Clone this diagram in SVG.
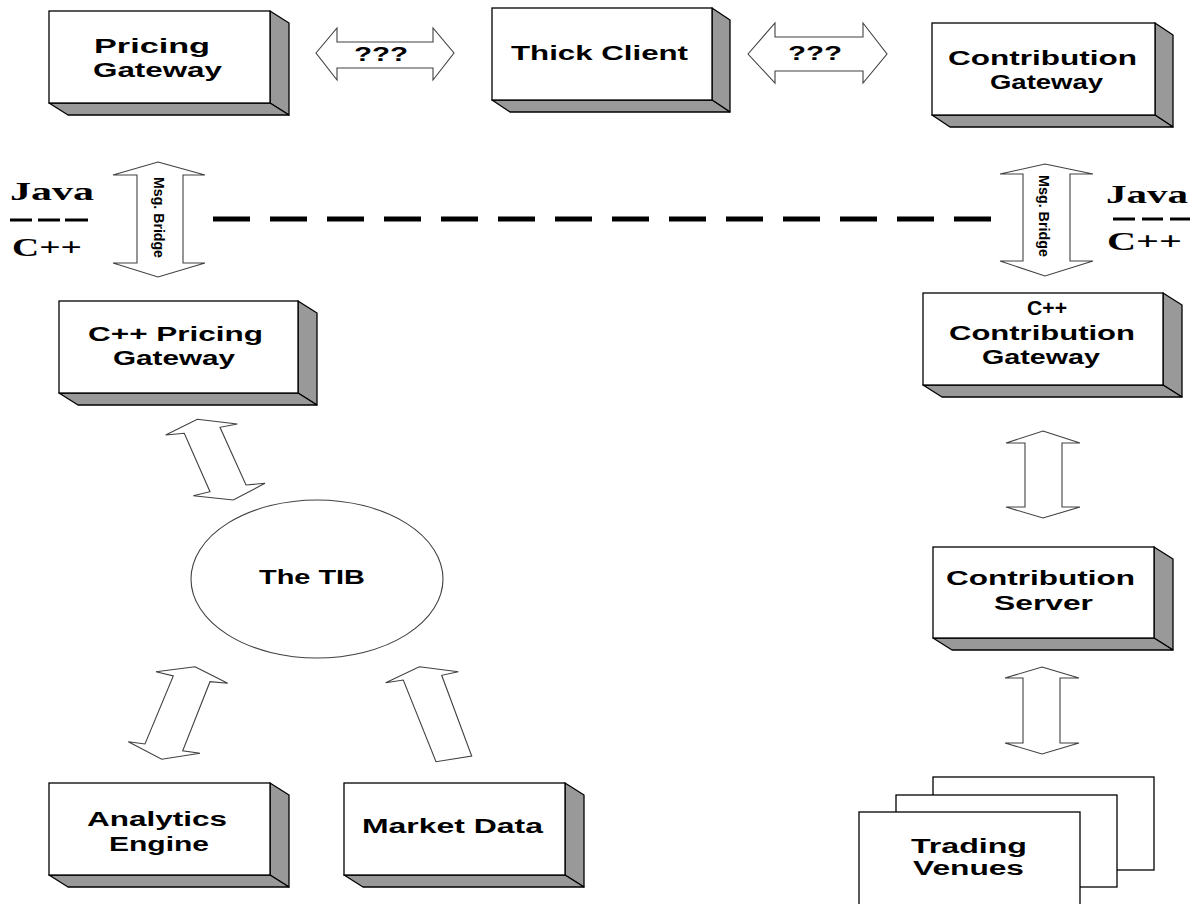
<svg xmlns="http://www.w3.org/2000/svg" width="1198" height="904" viewBox="0 0 1198 904">
<style>
.face{fill:#fff;stroke:#000;stroke-width:1.3}
.shade{fill:#999;stroke:#000;stroke-width:1.3;stroke-linejoin:round}
.lbl{font-family:"Liberation Sans",Arial,sans-serif;font-weight:bold;font-size:20px;fill:#000}
.small{font-family:"Liberation Sans",Arial,sans-serif;font-weight:bold;font-size:14px;fill:#000}
.lang{font-family:"Liberation Serif","Times New Roman",serif;font-weight:bold;font-size:26px;fill:#000}
.arrow{fill:#fff;stroke:#404040;stroke-width:1.1;stroke-linejoin:miter}
.dash{stroke:#000;stroke-width:3;fill:none}
</style>
<rect width="1198" height="904" fill="#fff"/>

<g id="connectors">
  <polygon class="arrow" points="316,53 337,28 337,42 433,42 433,28 454,53 433,80 433,68 337,68 337,80"/>
  <text class="lbl" x="354" y="61" textLength="54" lengthAdjust="spacingAndGlyphs">???</text>
  <polygon class="arrow" points="748,54 775,23 775,37 863,37 863,23 887,54 863,83 863,71 775,71 775,83"/>
  <text class="lbl" x="788" y="60" textLength="54" lengthAdjust="spacingAndGlyphs">???</text>
  <polygon class="arrow" points="158,162 205,175 183,175 183,263 205,263 158,277 113,263 137,263 137,175 113,175"/>
  <text class="small" transform="translate(153.5,217.5) rotate(90)" text-anchor="middle" textLength="81" lengthAdjust="spacingAndGlyphs">Msg. Bridge</text>
  <polygon class="arrow" points="1045,164 1093,174 1070,174 1070,261 1093,261 1045,276 1000,261 1023,261 1023,174 1000,174"/>
  <text class="small" transform="translate(1038.5,216) rotate(90)" text-anchor="middle" textLength="82" lengthAdjust="spacingAndGlyphs">Msg. Bridge</text>
  <line x1="213" y1="219" x2="991" y2="219" stroke="#000" stroke-width="5" stroke-dasharray="37 20"/>
  <polygon class="arrow" points="197.3,419.3 237.3,424 220,427.3 246,485 265,483.3 233.3,500 193.3,495.7 210,491.7 184.3,433.3 165.7,435"/>
  <polygon class="arrow" points="195,666.7 227.7,683.3 210,681.7 182.7,750.7 200,753.3 161.7,759.3 128.3,741.7 145,744 173.3,676 156,671.7"/>
  <polygon class="arrow" points="419.3,666.7 458.3,671.7 441.7,675.3 471.7,756 436,761.7 403.3,680 385.7,682.7"/>
  <polygon class="arrow" points="1043,431 1080,443 1062,443 1062,507 1080,507 1043,518 1006,507 1025,507 1025,443 1006,443"/>
  <polygon class="arrow" points="1042,667 1079,678 1060,678 1060,743 1079,743 1042,754 1005,743 1023,743 1023,678 1005,678"/>
</g>

<g id="lang-left">
  <text class="lang" x="10" y="200" textLength="84" lengthAdjust="spacingAndGlyphs">Java</text>
  <line class="dash" x1="10" y1="220" x2="32" y2="220"/>
  <line class="dash" x1="38" y1="220" x2="60" y2="220"/>
  <line class="dash" x1="65" y1="220" x2="88" y2="220"/>
  <text class="lang" x="12" y="256" textLength="70" lengthAdjust="spacingAndGlyphs">C++</text>
</g>
<g id="lang-right">
  <text class="lang" x="1106" y="203" textLength="82" lengthAdjust="spacingAndGlyphs">Java</text>
  <line class="dash" x1="1113" y1="219" x2="1135" y2="219"/>
  <line class="dash" x1="1142" y1="219" x2="1163" y2="219"/>
  <line class="dash" x1="1170" y1="219" x2="1190" y2="219"/>
  <text class="lang" x="1107" y="250" textLength="75" lengthAdjust="spacingAndGlyphs">C++</text>
</g>

<g id="pricing-gateway">
  <polygon class="shade" points="270,11 289,23 289,115 270,103"/>
  <polygon class="shade" points="49,103 270,103 289,115 68,115"/>
  <rect class="face" x="49" y="11" width="221" height="92"/>
  <text class="lbl" x="94" y="53" textLength="116" lengthAdjust="spacingAndGlyphs">Pricing</text>
  <text class="lbl" x="93" y="77" textLength="129" lengthAdjust="spacingAndGlyphs">Gateway</text>
</g>

<g id="thick-client">
  <polygon class="shade" points="712,8 730,20 730,112 712,100"/>
  <polygon class="shade" points="492,100 712,100 730,112 510,112"/>
  <rect class="face" x="492" y="8" width="220" height="92"/>
  <text class="lbl" x="511" y="60" textLength="177" lengthAdjust="spacingAndGlyphs">Thick Client</text>
</g>

<g id="contribution-gateway">
  <polygon class="shade" points="1155,23 1173,35 1173,127 1155,115"/>
  <polygon class="shade" points="932,115 1155,115 1173,127 950,127"/>
  <rect class="face" x="932" y="23" width="223" height="92"/>
  <text class="lbl" x="948" y="65" textLength="189" lengthAdjust="spacingAndGlyphs">Contribution</text>
  <text class="lbl" x="990" y="89" textLength="113" lengthAdjust="spacingAndGlyphs">Gateway</text>
</g>

<g id="cpp-pricing-gateway">
  <polygon class="shade" points="298,301 317,313 317,405 298,393"/>
  <polygon class="shade" points="59,393 298,393 317,405 78,405"/>
  <rect class="face" x="59" y="301" width="239" height="92"/>
  <text class="lbl" x="88" y="341" textLength="175" lengthAdjust="spacingAndGlyphs">C++ Pricing</text>
  <text class="lbl" x="113" y="365" textLength="122" lengthAdjust="spacingAndGlyphs">Gateway</text>
</g>

<g id="cpp-contribution-gateway">
  <polygon class="shade" points="1163,293 1182,305 1182,397 1163,385"/>
  <polygon class="shade" points="923,385 1163,385 1182,397 942,397"/>
  <rect class="face" x="923" y="293" width="240" height="92"/>
  <text class="lbl" x="1027" y="315" textLength="40" lengthAdjust="spacingAndGlyphs">C++</text>
  <text class="lbl" x="949" y="340" textLength="186" lengthAdjust="spacingAndGlyphs">Contribution</text>
  <text class="lbl" x="982" y="364" textLength="118" lengthAdjust="spacingAndGlyphs">Gateway</text>
</g>

<g id="the-tib">
  <ellipse cx="317" cy="579" rx="126" ry="79" fill="#fff" stroke="#404040" stroke-width="1.1"/>
  <text class="lbl" x="259" y="584" textLength="106" lengthAdjust="spacingAndGlyphs">The TIB</text>
</g>

<g id="contribution-server">
  <polygon class="shade" points="1154,547 1173,559 1173,650 1154,638"/>
  <polygon class="shade" points="933,638 1154,638 1173,650 952,650"/>
  <rect class="face" x="933" y="547" width="221" height="91"/>
  <text class="lbl" x="946" y="585" textLength="189" lengthAdjust="spacingAndGlyphs">Contribution</text>
  <text class="lbl" x="994" y="610" textLength="99" lengthAdjust="spacingAndGlyphs">Server</text>
</g>

<g id="analytics-engine">
  <polygon class="shade" points="270,783 289,795 289,887 270,875"/>
  <polygon class="shade" points="49,875 270,875 289,887 68,887"/>
  <rect class="face" x="49" y="783" width="221" height="92"/>
  <text class="lbl" x="87" y="826" textLength="140" lengthAdjust="spacingAndGlyphs">Analytics</text>
  <text class="lbl" x="109" y="851" textLength="100" lengthAdjust="spacingAndGlyphs">Engine</text>
</g>

<g id="market-data">
  <polygon class="shade" points="565,783 584,795 584,887 565,875"/>
  <polygon class="shade" points="344,875 565,875 584,887 363,887"/>
  <rect class="face" x="344" y="783" width="221" height="92"/>
  <text class="lbl" x="362" y="833" textLength="181" lengthAdjust="spacingAndGlyphs">Market Data</text>
</g>

<g id="trading-venues">
  <rect class="face" x="933" y="777" width="221" height="93"/>
  <rect class="face" x="896" y="795" width="221" height="92"/>
  <rect class="face" x="859" y="812" width="221" height="100"/>
  <text class="lbl" x="911" y="853" textLength="116" lengthAdjust="spacingAndGlyphs">Trading</text>
  <text class="lbl" x="913" y="875" textLength="111" lengthAdjust="spacingAndGlyphs">Venues</text>
</g>
</svg>
